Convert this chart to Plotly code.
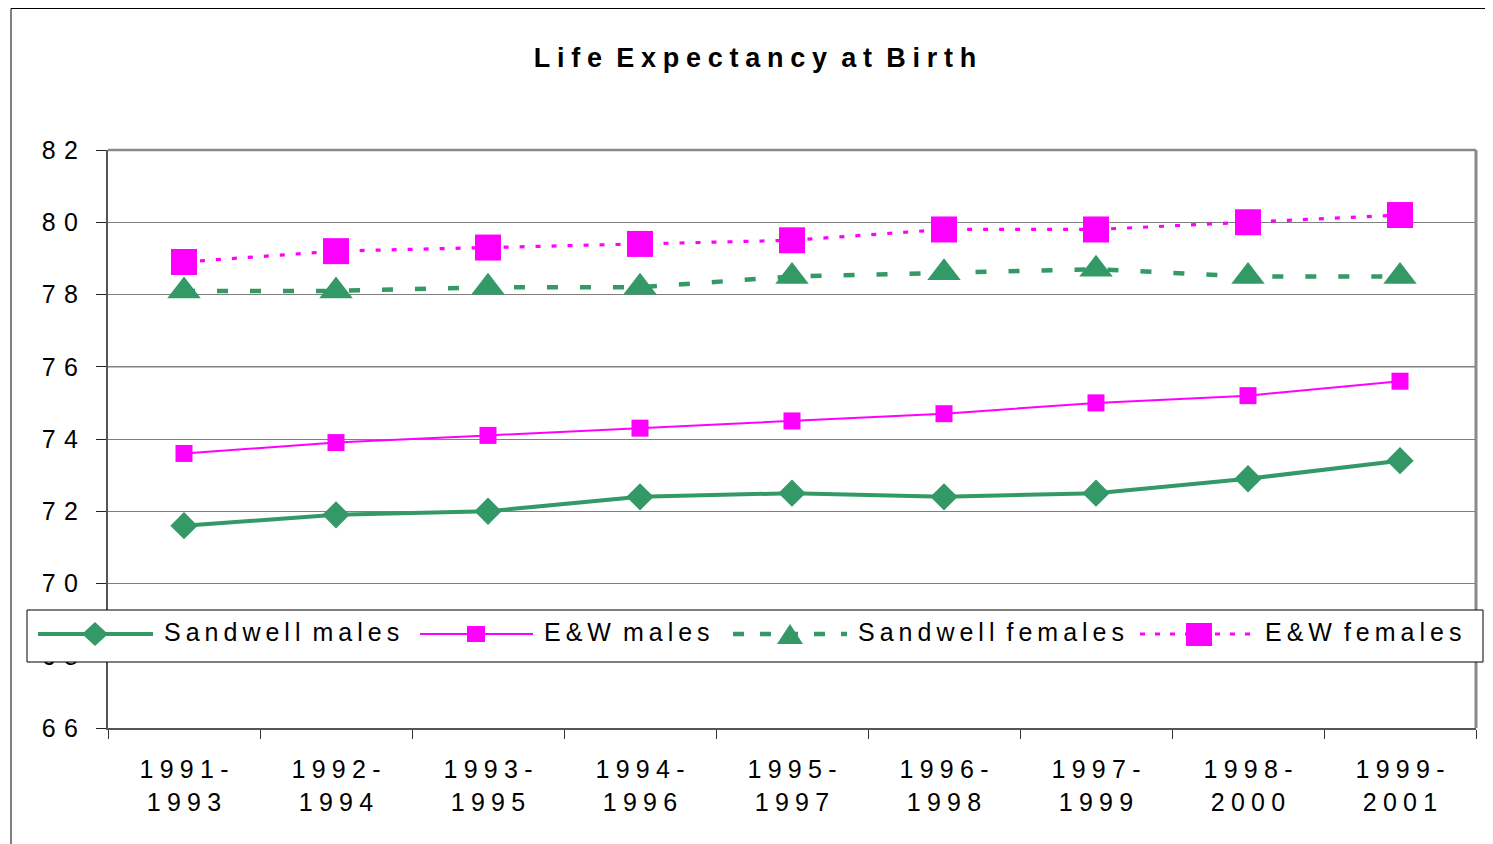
import plotly.graph_objects as go

# ---------------- data ----------------
periods = ["1991-1993", "1992-1994", "1993-1995", "1994-1996", "1995-1997",
           "1996-1998", "1997-1999", "1998-2000", "1999-2001"]
sandwell_males = [71.6, 71.9, 72.0, 72.4, 72.5, 72.4, 72.5, 72.9, 73.4]
ew_males = [73.6, 73.9, 74.1, 74.3, 74.5, 74.7, 75.0, 75.2, 75.6]
sandwell_females = [78.1, 78.1, 78.2, 78.2, 78.5, 78.6, 78.7, 78.5, 78.5]
ew_females = [78.9, 79.2, 79.3, 79.4, 79.5, 79.8, 79.8, 80.0, 80.2]
y_ticks = [66, 68, 70, 72, 74, 76, 78, 80, 82]
series_names = ["Sandwell males", "E&W males", "Sandwell females", "E&W females"]
title_text = "Life Expectancy at Birth"

GREEN = "#339966"
MAGENTA = "#FF00FF"
FONT = "Arial, 'Liberation Sans', sans-serif"

def spaced(s, sep):
    words = s.split(" ")
    return (" " + sep).join(sep.join(w) for w in words)

TICK_SEP = "\u2005"
YTICK_SEP = "\u2004"
LEG_SEP = "\u2009"
TITLE_SEP = "\u2005"

def period_label(p):
    a, b = p.split("-")
    return spaced(a + "-", TICK_SEP) + "<br>" + spaced(b, TICK_SEP)

x_labels = [period_label(p) for p in periods]

# ---------------- geometry (page pixel coords; page body margin = 8px) ----------------
OFF = 8
PAGE_W, PAGE_H = 1493, 844
W, H = PAGE_W - OFF, PAGE_H - OFF
L, R, T, B = 108, 1476, 150, 728

def PX(px):
    return (px - L) / (R - L)

def PY(py):
    return (B - py) / (B - T)

fig = go.Figure()
fig.add_trace(go.Scatter(x=x_labels, y=sandwell_males, mode="lines+markers",
                         name=series_names[0], showlegend=False,
                         line=dict(color=GREEN, width=4),
                         marker=dict(symbol="diamond", size=21, color=GREEN)))
fig.add_trace(go.Scatter(x=x_labels, y=ew_males, mode="lines+markers",
                         name=series_names[1], showlegend=False,
                         line=dict(color=MAGENTA, width=2),
                         marker=dict(symbol="square", size=17, color=MAGENTA)))
fig.add_trace(go.Scatter(x=x_labels, y=sandwell_females, mode="lines+markers",
                         name=series_names[2], showlegend=False,
                         line=dict(color=GREEN, width=4.5, dash="11px,22px"),
                         marker=dict(symbol="triangle-up", size=29, color=GREEN)))
fig.add_trace(go.Scatter(x=x_labels, y=ew_females, mode="lines+markers",
                         name=series_names[3], showlegend=False,
                         line=dict(color=MAGENTA, width=3.2, dash="5px,11px"),
                         marker=dict(symbol="square", size=26, color=MAGENTA)))

shapes = []
# outer chart frame
shapes.append(dict(type="rect", xref="paper", yref="paper",
                   x0=PX(11), x1=PX(1530), y0=PY(880), y1=PY(8.5),
                   line=dict(color="black", width=1), fillcolor="rgba(0,0,0,0)",
                   layer="above"))
# plot-area top and right border
shapes.append(dict(type="line", xref="paper", yref="paper", x0=0, x1=1, y0=1, y1=1,
                   line=dict(color="#8a8a8a", width=2.5), layer="above"))
shapes.append(dict(type="line", xref="paper", yref="paper", x0=1, x1=1, y0=0, y1=1,
                   line=dict(color="#8a8a8a", width=3), layer="above"))
# darker gridline at 76
shapes.append(dict(type="line", xref="x", yref="y", x0=-0.5, x1=8.5, y0=76, y1=76,
                   line=dict(color="black", width=1), layer="below"))

# ---- custom legend ----
LY = 634
shapes.append(dict(type="rect", xref="paper", yref="paper",
                   x0=PX(27), x1=PX(1483), y0=PY(662), y1=PY(610),
                   line=dict(color="black", width=1), fillcolor="white", layer="above"))

def hline(x0, x1, color, width, dash="solid"):
    shapes.append(dict(type="line", xref="paper", yref="paper",
                       x0=PX(x0), x1=PX(x1), y0=PY(LY), y1=PY(LY),
                       line=dict(color=color, width=width, dash=dash), layer="above"))

def poly(points, color):
    path = "M " + " L ".join(f"{PX(a):.5f},{PY(b):.5f}" for a, b in points) + " Z"
    shapes.append(dict(type="path", xref="paper", yref="paper", path=path,
                       fillcolor=color, line=dict(color=color, width=0), layer="above"))

# item 1
hline(38, 153, GREEN, 4)
poly([(95 - 13, LY), (95, LY - 12), (95 + 13, LY), (95, LY + 12)], GREEN)
# item 2
hline(420, 533, MAGENTA, 2)
poly([(476 - 9, LY - 8), (476 + 9, LY - 8), (476 + 9, LY + 8), (476 - 9, LY + 8)], MAGENTA)
# item 3
hline(733, 847, GREEN, 4.5, "11px,16px")
poly([(790 - 13, LY + 10), (790, LY - 10), (790 + 13, LY + 10)], GREEN)
# item 4
hline(1140, 1253, MAGENTA, 3.2, "5px,10px")
poly([(1199 - 13, LY - 11), (1199 + 13, LY - 11), (1199 + 13, LY + 12), (1199 - 13, LY + 12)], MAGENTA)

annotations = []
for name, xs in zip(series_names, [162, 542, 856, 1263]):
    annotations.append(dict(text=spaced(name, LEG_SEP), xref="paper", yref="paper",
                            x=PX(xs), y=PY(632), xanchor="left", yanchor="middle",
                            showarrow=False, font=dict(family=FONT, size=25, color="black")))

fig.update_layout(
    width=W, height=H,
    margin=dict(l=L - OFF, r=PAGE_W - R, t=T - OFF, b=PAGE_H - B, pad=0),
    paper_bgcolor="white", plot_bgcolor="white",
    title=dict(text="<b>" + spaced(title_text, TITLE_SEP) + "</b>",
               x=(755 - OFF) / W, xanchor="center", xref="container",
               y=1 - (58 - OFF) / H, yanchor="middle", yref="container",
               font=dict(family=FONT, size=27, color="black")),
    xaxis=dict(type="category", categoryorder="array", categoryarray=x_labels,
               range=[-0.5, 8.5], tickson="boundaries", ticks="outside", ticklen=9,
               tickcolor="#333", tickwidth=1, showline=True, linecolor="#555",
               linewidth=2, showgrid=False, zeroline=False,
               tickfont=dict(family=FONT, size=25, color="black"),
               ticklabelstandoff=18),
    yaxis=dict(range=[66, 82], tickmode="array", tickvals=y_ticks,
               ticktext=[spaced(str(v), YTICK_SEP) for v in y_ticks],
               ticks="outside", ticklen=10, tickcolor="#222", tickwidth=1,
               showline=True, linecolor="#555", linewidth=2,
               showgrid=True, gridcolor="#808080", gridwidth=1, zeroline=False,
               tickfont=dict(family=FONT, size=25, color="black"),
               ticklabelstandoff=13),
    shapes=shapes, annotations=annotations, showlegend=False,
)

fig.write_html("out.html")
